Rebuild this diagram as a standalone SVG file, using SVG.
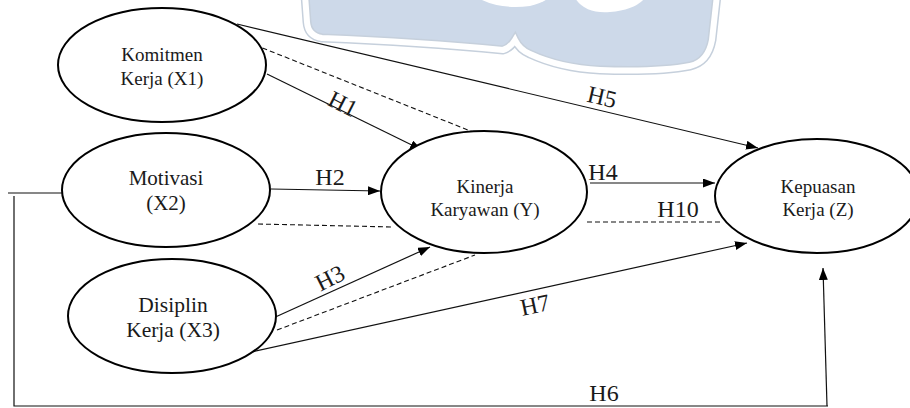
<svg xmlns="http://www.w3.org/2000/svg" width="910" height="408" viewBox="0 0 910 408">
  <style>
    .node { fill: #fff; stroke: #000; stroke-width: 2; }
    .nt { font-family: "Liberation Serif", "Times New Roman", serif; fill: #1a1a1a; text-anchor: middle; }
    .ln { stroke: #111; stroke-width: 1.2; fill: none; }
    .arr { marker-end: url(#ah); }
    .dash { stroke: #111; stroke-width: 1.1; fill: none; stroke-dasharray: 5 3; }
    .lbl { font-family: "Liberation Serif", "Times New Roman", serif; font-size: 24px; fill: #1a1a1a; text-anchor: middle; }
  </style>
  <defs>
    <marker id="ah" markerUnits="userSpaceOnUse" markerWidth="13" markerHeight="9" refX="12" refY="4.5" orient="auto">
      <path d="M0,0 L12,4.5 L0,9 z" fill="#000"/>
    </marker>
  </defs>

  <rect width="910" height="408" fill="#fff"/>

  <!-- background watermark -->
  <g id="watermark">
    <path d="M305,-5 L307,22 Q308,36 322,38 Q420,42 503,50 Q510,48 515,40 Q520,50 530,54 Q560,68 600,70 Q660,72 690,66 Q708,62 712,40 L717,-5 Z" fill="#cdd9e9" stroke="#c6d0dc" stroke-width="9"/>
    <path d="M305,-5 L307,22 Q308,36 322,38 Q420,42 503,50 Q510,48 515,40 Q520,50 530,54 Q560,68 600,70 Q660,72 690,66 Q708,62 712,40 L717,-5 Z" fill="none" stroke="#fff" stroke-width="6"/>
    <path d="M478,-2 Q500,10 530,6 Q545,2 548,-2 Z" fill="#fff"/>
    <path d="M575,-2 Q585,14 610,12 Q635,10 645,-2 Z" fill="#fff"/>
  </g>

  <!-- connectors -->
  <g id="connectors">
    <!-- Motivasi outer return line to Kepuasan -->
    <polyline class="ln" points="8,193 62,193"/>
    <polyline class="ln" points="14,196 14,406 828,406"/>
    <line class="ln arr" x1="827" y1="406" x2="823" y2="268"/>

    <!-- X1 -->
    <line class="ln arr" x1="237" y1="24" x2="758" y2="148"/>
    <line class="dash" x1="255" y1="45" x2="483" y2="136"/>
    <line class="ln arr" x1="267" y1="74" x2="422" y2="150"/>

    <!-- X2 -->
    <line class="ln arr" x1="271" y1="189" x2="380" y2="191"/>
    <line class="dash" x1="258" y1="224" x2="393" y2="227"/>

    <!-- X3 -->
    <line class="ln arr" x1="271" y1="319" x2="430" y2="247"/>
    <line class="dash" x1="277" y1="330" x2="475" y2="255"/>
    <line class="ln arr" x1="247" y1="353" x2="747" y2="243"/>

    <!-- Y to Z -->
    <line class="ln arr" x1="590" y1="183" x2="715" y2="183"/>
    <line class="dash" x1="587" y1="222" x2="722" y2="222"/>

    <!-- path labels -->
    <text class="lbl" transform="translate(343,104) rotate(27)" y="8">H1</text>
    <text class="lbl" x="330" y="185">H2</text>
    <text class="lbl" transform="translate(330,278) rotate(-27)" y="8">H3</text>
    <text class="lbl" x="603" y="180">H4</text>
    <text class="lbl" transform="translate(602,97) rotate(13)" y="8">H5</text>
    <text class="lbl" x="604" y="401">H6</text>
    <text class="lbl" transform="translate(535,305) rotate(-12)" y="8">H7</text>
    <text class="lbl" x="678" y="217">H10</text>
  </g>

  <!-- nodes -->
  <g id="komitmen">
    <ellipse class="node" cx="162" cy="65" rx="104" ry="57"/>
    <text class="nt" font-size="19" x="162" y="61">Komitmen</text>
    <text class="nt" font-size="19" x="162" y="85">Kerja (X1)</text>
  </g>
  <g id="motivasi">
    <ellipse class="node" cx="166" cy="190" rx="104" ry="57"/>
    <text class="nt" font-size="21" x="166" y="185">Motivasi</text>
    <text class="nt" font-size="21" x="166" y="210">(X2)</text>
  </g>
  <g id="disiplin">
    <ellipse class="node" cx="172" cy="316" rx="104" ry="57"/>
    <text class="nt" font-size="21.5" x="173" y="312">Disiplin</text>
    <text class="nt" font-size="21.5" x="173" y="337">Kerja (X3)</text>
  </g>
  <g id="kinerja">
    <ellipse class="node" cx="484" cy="192" rx="103" ry="61"/>
    <text class="nt" font-size="19" x="485" y="193">Kinerja</text>
    <text class="nt" font-size="19" x="485" y="216">Karyawan (Y)</text>
  </g>
  <g id="kepuasan">
    <ellipse class="node" cx="817" cy="196" rx="102" ry="57"/>
    <text class="nt" font-size="19" x="818" y="193">Kepuasan</text>
    <text class="nt" font-size="19" x="818" y="216">Kerja (Z)</text>
  </g>
</svg>
